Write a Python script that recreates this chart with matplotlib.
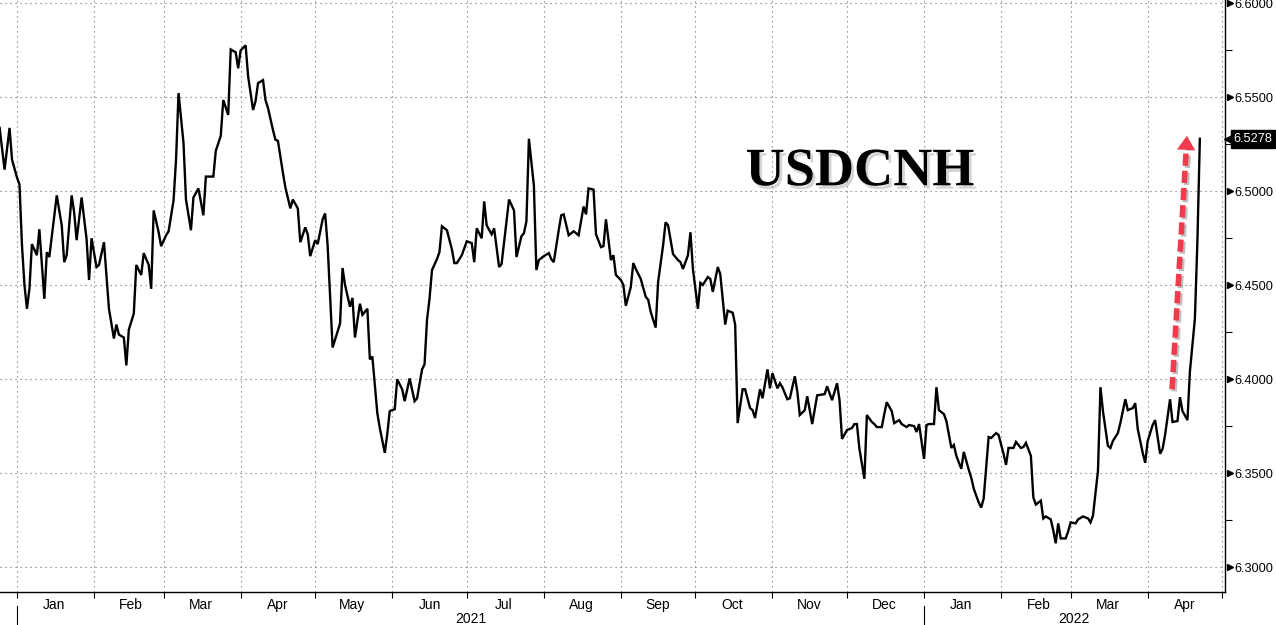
import numpy as np
import matplotlib
matplotlib.use("Agg")
import matplotlib.pyplot as plt
import matplotlib.dates as mdates
import matplotlib.patheffects as pe
from matplotlib.transforms import blended_transform_factory

plt.rcParams['font.family'] = ['Liberation Sans', 'DejaVu Sans']

# USDCNH daily closes, x = days since 2021-01-01
BASE = np.datetime64("2021-01-01")
days = [-7, -5, -3, -2, 0, 1, 2, 3, 4, 5, 6, 8, 9, 11, 12, 13, 16, 18, 19, 20,
        22, 23, 24, 26, 28, 29, 30, 32, 33, 35, 36, 37, 39, 40, 41, 43, 44, 45, 47, 48,
        50, 51, 53, 54, 55, 57, 58, 60, 61, 63, 64, 65, 67, 68, 70, 71, 73, 75, 76, 79,
        80, 82, 83, 85, 86, 88, 89, 90, 92, 93, 95, 96, 97, 99, 100, 101, 103, 104, 105, 107,
        108, 110, 111, 113, 114, 116, 117, 118, 120, 121, 123, 124, 125, 127, 128, 130, 131, 132, 134, 135,
        136, 138, 139, 141, 142, 143, 145, 146, 148, 149, 150, 152, 153, 155, 156, 158, 160, 161, 163, 164,
        165, 166, 167, 169, 170, 171, 173, 175, 176, 177, 179, 180, 181, 183, 184, 185, 187, 188, 189, 191,
        192, 194, 195, 196, 198, 200, 201, 203, 204, 205, 206, 208, 209, 210, 212, 214, 215, 216, 218, 219,
        220, 222, 224, 225, 226, 228, 229, 230, 232, 233, 235, 236, 237, 239, 240, 241, 243, 244, 245, 247,
        248, 249, 251, 253, 254, 255, 257, 258, 260, 261, 262, 264, 266, 267, 268, 270, 271, 272, 274, 275,
        276, 278, 279, 280, 282, 283, 285, 286, 288, 289, 290, 292, 293, 295, 296, 297, 299, 300, 302, 303,
        304, 306, 307, 308, 310, 311, 313, 314, 315, 317, 318, 320, 322, 325, 326, 328, 330, 331, 332, 334,
        336, 337, 338, 339, 341, 342, 344, 345, 346, 348, 349, 350, 352, 353, 355, 356, 358, 359, 361, 362,
        363, 365, 366, 367, 369, 370, 371, 373, 374, 376, 377, 378, 380, 381, 383, 384, 385, 387, 388, 389,
        391, 392, 394, 395, 397, 398, 399, 401, 402, 404, 405, 406, 408, 409, 410, 412, 413, 414, 416, 417,
        418, 419, 420, 422, 423, 424, 426, 427, 429, 431, 432, 433, 435, 436, 437, 439, 440, 441, 443, 444,
        446, 447, 449, 450, 451, 453, 454, 455, 457, 458, 460, 461, 462, 464, 465, 467, 468, 469, 471, 472,
        474, 475, 476]
usdcnh = [6.5336, 6.5114, 6.5336, 6.5167, 6.5072, 6.5035, 6.4712, 6.4501, 6.4374, 6.4480,
          6.4718, 6.4659, 6.4797, 6.4427, 6.4675, 6.4649, 6.4977, 6.4818, 6.4622, 6.4659,
          6.4977, 6.4887, 6.4739, 6.4966, 6.4744, 6.4527, 6.4749, 6.4596, 6.4607, 6.4728,
          6.4554, 6.4374, 6.4216, 6.4290, 6.4237, 6.4221, 6.4073, 6.4263, 6.4348, 6.4607,
          6.4554, 6.4670, 6.4607, 6.4480, 6.4897, 6.4781, 6.4707, 6.4765, 6.4786, 6.4950,
          6.5167, 6.5521, 6.5257, 6.4955, 6.4792, 6.4966, 6.5014, 6.4871, 6.5077, 6.5077,
          6.5214, 6.5294, 6.5484, 6.5405, 6.5753, 6.5738, 6.5653, 6.5748, 6.5775, 6.5611,
          6.5431, 6.5479, 6.5574, 6.5590, 6.5484, 6.5442, 6.5325, 6.5273, 6.5267, 6.5098,
          6.5019, 6.4908, 6.4955, 6.4908, 6.4728, 6.4807, 6.4770, 6.4654, 6.4739, 6.4718,
          6.4850, 6.4881, 6.4712, 6.4168, 6.4210, 6.4295, 6.4591, 6.4501, 6.4385, 6.4432,
          6.4221, 6.4401, 6.4342, 6.4374, 6.4105, 6.4120, 6.3819, 6.3740, 6.3608, 6.3708,
          6.3830, 6.3840, 6.3999, 6.3946, 6.3883, 6.4004, 6.3883, 6.3898, 6.4052, 6.4078,
          6.4316, 6.4427, 6.4580, 6.4638, 6.4675, 6.4813, 6.4792, 6.4691, 6.4617, 6.4617,
          6.4659, 6.4696, 6.4733, 6.4723, 6.4622, 6.4802, 6.4749, 6.4945, 6.4818, 6.4770,
          6.4802, 6.4596, 6.4612, 6.4728, 6.4955, 6.4897, 6.4649, 6.4760, 6.4776, 6.4839,
          6.5278, 6.5029, 6.4580, 6.4633, 6.4654, 6.4670, 6.4638, 6.4622, 6.4792, 6.4871,
          6.4876, 6.4765, 6.4786, 6.4776, 6.4765, 6.4918, 6.4876, 6.5014, 6.5008, 6.4770,
          6.4702, 6.4707, 6.4850, 6.4633, 6.4659, 6.4554, 6.4527, 6.4501, 6.4390, 6.4490,
          6.4617, 6.4586, 6.4533, 6.4438, 6.4422, 6.4358, 6.4274, 6.4517, 6.4712, 6.4834,
          6.4818, 6.4665, 6.4633, 6.4622, 6.4586, 6.4659, 6.4781, 6.4586, 6.4374, 6.4512,
          6.4501, 6.4543, 6.4533, 6.4464, 6.4596, 6.4559, 6.4290, 6.4364, 6.4353, 6.4290,
          6.3766, 6.3946, 6.3946, 6.3846, 6.3835, 6.3793, 6.3946, 6.3898, 6.4052, 6.3951,
          6.4031, 6.3951, 6.3978, 6.3957, 6.3893, 6.3898, 6.4015, 6.3935, 6.3809, 6.3835,
          6.3909, 6.3761, 6.3914, 6.3920, 6.3962, 6.3888, 6.3978, 6.3888, 6.3682, 6.3729,
          6.3740, 6.3761, 6.3761, 6.3629, 6.3470, 6.3809, 6.3772, 6.3761, 6.3745, 6.3745,
          6.3814, 6.3877, 6.3830, 6.3766, 6.3782, 6.3761, 6.3745, 6.3756, 6.3750, 6.3719,
          6.3761, 6.3576, 6.3756, 6.3761, 6.3761, 6.3957, 6.3835, 6.3814, 6.3777, 6.3634,
          6.3650, 6.3592, 6.3523, 6.3613, 6.3518, 6.3476, 6.3418, 6.3344, 6.3317, 6.3365,
          6.3692, 6.3687, 6.3713, 6.3703, 6.3603, 6.3544, 6.3634, 6.3634, 6.3666, 6.3634,
          6.3639, 6.3661, 6.3592, 6.3370, 6.3333, 6.3354, 6.3259, 6.3270, 6.3254, 6.3196,
          6.3127, 6.3233, 6.3153, 6.3153, 6.3190, 6.3238, 6.3233, 6.3254, 6.3270, 6.3259,
          6.3238, 6.3275, 6.3513, 6.3957, 6.3830, 6.3645, 6.3634, 6.3671, 6.3713, 6.3766,
          6.3893, 6.3835, 6.3846, 6.3872, 6.3735, 6.3608, 6.3555, 6.3671, 6.3756, 6.3782,
          6.3603, 6.3629, 6.3703, 6.3893, 6.3772, 6.3777, 6.3904, 6.3830, 6.3782, 6.4041,
          6.4321, 6.4728, 6.5278]
last_value = 6.5278

y_ticks = [6.30, 6.35, 6.40, 6.45, 6.50, 6.55, 6.60]
y_minor = [6.325, 6.375, 6.425, 6.475, 6.525, 6.575]
years = ["2021", "2022"]
year_start = [0, 365]
year_end = [365, 486]

# red annotation arrow (days, price)
arrow_days = [464.8, 470.8]
arrow_vals = [6.3946, 6.5294]

x0 = mdates.date2num(BASE)
xs = x0 + np.array(days, dtype=float)

fig = plt.figure(figsize=(12.76, 6.25), dpi=100, facecolor="white")
ax = fig.add_axes([0.0, 0.0528, 0.96, 0.9472])

ax.plot(xs, usdcnh, color="black", lw=1.7, solid_joinstyle="miter", zorder=3)

ax.set_xlim(x0 - 6.84, x0 + 486.1)
ax.set_ylim(6.2868, 6.6016)

for s in ["left", "top"]:
    ax.spines[s].set_visible(False)
ax.spines["right"].set_linewidth(1.0)
ax.spines["bottom"].set_linewidth(1.0)

# x axis: month ticks at month starts, labels mid-month
ax.xaxis.set_major_locator(mdates.MonthLocator())
ax.xaxis.set_major_formatter(plt.NullFormatter())
ax.xaxis.set_minor_locator(mdates.MonthLocator(bymonthday=16))
ax.xaxis.set_minor_formatter(mdates.DateFormatter("%b"))
ax.tick_params(axis="x", which="major", length=4, width=0.8, direction="out")
ax.tick_params(axis="x", which="minor", length=0, pad=4, labelsize=10)

# y axis on the right
ax.yaxis.tick_right()
ax.set_yticks(y_ticks)
ax.set_yticklabels([f"{v:.4f}" for v in y_ticks])
ax.set_yticks(y_minor, minor=True)
ax.tick_params(axis="y", which="major", length=0, pad=6.5, labelsize=9.2)
ax.tick_params(axis="y", which="minor", length=5, width=0.8, direction="out")

ax.grid(True, which="major", color="#6a6a6a", linestyle=(0, (1, 3.5)), lw=0.8)

ty = blended_transform_factory(ax.transAxes, ax.transData)
ax.plot([1.0045] * len(y_ticks), y_ticks, ls="none", marker=">", ms=5,
        color="black", transform=ty, clip_on=False)

# last value tag
ax.plot([1.0050], [last_value], ls="none", marker="<", ms=10, color="black",
        transform=ty, clip_on=False)
ax.text(1.0072, last_value, f"{last_value:.4f}", transform=ty, va="center",
        ha="left", color="white", fontsize=9.2,
        bbox=dict(boxstyle="square,pad=0.22", fc="black", ec="black"))

# year labels and separators
tx = blended_transform_factory(ax.transData, ax.transAxes)
for lab, a, b in zip(years, year_start, year_end):
    ax.text(x0 + (a + b) / 2, -0.046, lab, transform=tx, ha="center",
            va="center", fontsize=10)
    ax.plot([x0 + a, x0 + a], [-0.024, -0.06], transform=tx, color="black",
            lw=0.8, clip_on=False)

# title text with soft shadow
ax.text(0.702, 0.709, "USDCNH", transform=ax.transAxes, ha="center", va="center",
        fontsize=39, fontweight="bold", family="Liberation Serif", color="black",
        path_effects=[pe.withSimplePatchShadow(offset=(2, -2.5), shadow_rgbFace="#888888",
                                                alpha=0.35)])

# dashed red arrow
red = "#f03c4c"
ax.plot(x0 + np.array(arrow_days) - [0, 0.25], [arrow_vals[0], arrow_vals[1] - 0.0065],
        color=red, lw=4.0, dashes=(2.2, 0.9), solid_capstyle="butt", zorder=4,
        path_effects=[pe.SimpleLineShadow(offset=(1.5, -1.5), alpha=0.25), pe.Normal()])
ax.annotate("", xy=(x0 + arrow_days[1], arrow_vals[1]),
            xytext=(x0 + arrow_days[1] - 0.7, arrow_vals[1] - 0.016),
            arrowprops=dict(arrowstyle="-|>,head_length=0.85,head_width=0.55",
                            color=red, lw=0, mutation_scale=12,
                            shrinkA=0, shrinkB=0), zorder=5)

fig.savefig("out.png", dpi=100, facecolor="white")
